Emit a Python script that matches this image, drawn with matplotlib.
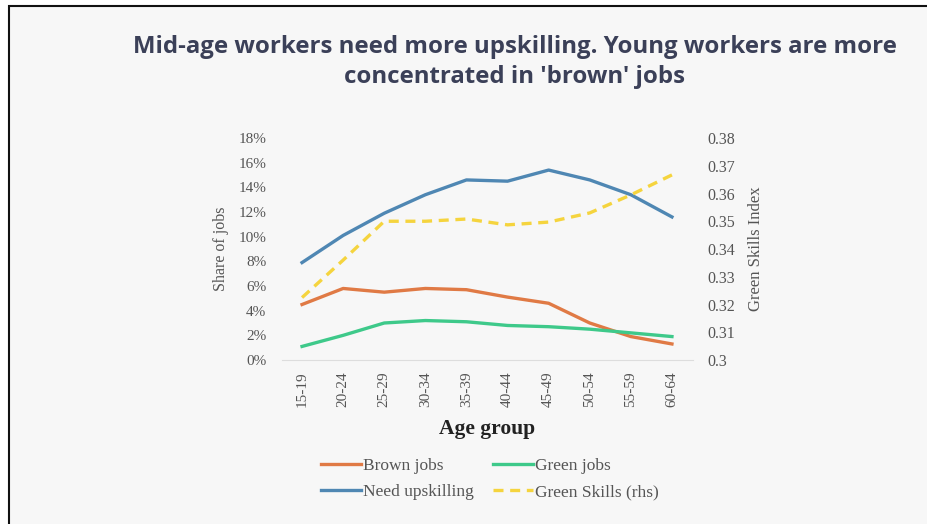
import matplotlib
matplotlib.use("Agg")
import matplotlib.pyplot as plt
from matplotlib.patches import Rectangle
from matplotlib.ticker import FuncFormatter

age_groups = ["15-19", "20-24", "25-29", "30-34", "35-39", "40-44", "45-49", "50-54", "55-59", "60-64"]
brown_jobs = [4.5, 5.8, 5.5, 5.8, 5.7, 5.1, 4.6, 3.0, 1.9, 1.3]
green_jobs = [1.1, 2.0, 3.0, 3.2, 3.1, 2.8, 2.7, 2.5, 2.2, 1.9]
need_upskilling = [7.9, 10.1, 11.9, 13.4, 14.6, 14.5, 15.4, 14.6, 13.4, 11.6]
green_skills = [0.3225, 0.336, 0.350, 0.350, 0.3508, 0.3487, 0.3497, 0.353, 0.3595, 0.3667]
left_ticks = [0, 2, 4, 6, 8, 10, 12, 14, 16, 18]
right_ticks = [0.30, 0.31, 0.32, 0.33, 0.34, 0.35, 0.36, 0.37, 0.38]
right_tick_labels = ["0.3", "0.31", "0.32", "0.33", "0.34", "0.35", "0.36", "0.37", "0.38"]

W, H = 927, 524
fig = plt.figure(figsize=(W / 100, H / 100), dpi=100, facecolor="white")

# panel background with frame
fig.patches.append(Rectangle((9 / W, -0.01), 1.0, 1 - 6 / H + 0.01, transform=fig.transFigure,
                             facecolor="#f7f7f7", edgecolor="#111111", linewidth=1.5, zorder=-5))

serif = ["Liberation Serif", "DejaVu Serif"]
tick_color = "#555555"
tick_size = 11

ax = fig.add_axes([281.5 / W, 1 - 360 / H, 411 / W, 222 / H])
ax.set_facecolor("none")
x = list(range(len(age_groups)))

c_brown = "#e07a45"
c_green = "#3ec98a"
c_blue = "#4f87b3"
c_yellow = "#f5d43e"

l1, = ax.plot(x, brown_jobs, color=c_brown, lw=2.4, label="Brown jobs")
l2, = ax.plot(x, green_jobs, color=c_green, lw=2.4, label="Green jobs")
l3, = ax.plot(x, need_upskilling, color=c_blue, lw=2.4, label="Need upskilling")

ax.set_xlim(-0.5, len(age_groups) - 0.5)
ax.set_ylim(0, 18)
ax.set_yticks(left_ticks)
ax.yaxis.set_major_formatter(FuncFormatter(lambda v, p: f"{v:.0f}%"))
ax.set_xticks(x)
ax.set_xticklabels(age_groups, rotation=90)
for s in ["top", "right", "left"]:
    ax.spines[s].set_visible(False)
ax.spines["bottom"].set_color("#dddddd")
ax.tick_params(length=0, colors=tick_color, labelsize=tick_size)
ax.tick_params(axis="y", pad=11)
ax.tick_params(axis="x", pad=8)
for t in ax.get_xticklabels() + ax.get_yticklabels():
    t.set_family(serif)
ax.set_ylabel("Share of jobs", family=serif, fontsize=11.5, color=tick_color, labelpad=7)
ax.set_xlabel("Age group", family=serif, fontsize=15.5, fontweight="bold", color="#222222", labelpad=9)

ax2 = ax.twinx()
l4, = ax2.plot(x, green_skills, color=c_yellow, lw=2.4, ls=(0, (3, 2)), label="Green Skills (rhs)")
ax2.set_ylim(0.30, 0.38)
ax2.set_yticks(right_ticks)
ax2.set_yticklabels(right_tick_labels)
for s in ["top", "right", "left", "bottom"]:
    ax2.spines[s].set_visible(False)
ax2.tick_params(length=0, colors=tick_color, labelsize=11.5, pad=11)
for t in ax2.get_yticklabels():
    t.set_family(serif)
ax2.set_ylabel("Green Skills Index", family=serif, fontsize=12, color=tick_color, labelpad=9)

leg = fig.legend(handles=[l1, l3, l2, l4], loc="center", bbox_to_anchor=(490 / W, 1 - 479 / H),
                 ncol=2, frameon=False, prop={"family": serif, "size": 12.5},
                 handlelength=2.3, handletextpad=0.1, columnspacing=1.1, labelspacing=0.6)
for t in leg.get_texts():
    t.set_color(tick_color)

fig.text(515 / W, 1 - 47 / H, "Mid-age workers need more upskilling. Young workers are more",
         ha="center", va="center", family=["Open Sans", "DejaVu Sans"], fontweight="bold",
         fontsize=17.3, color="#3b4058")
fig.text(515 / W, 1 - 77 / H, "concentrated in 'brown' jobs",
         ha="center", va="center", family=["Open Sans", "DejaVu Sans"], fontweight="bold",
         fontsize=17.3, color="#3b4058")

fig.savefig("out.png", dpi=100, facecolor="white")
